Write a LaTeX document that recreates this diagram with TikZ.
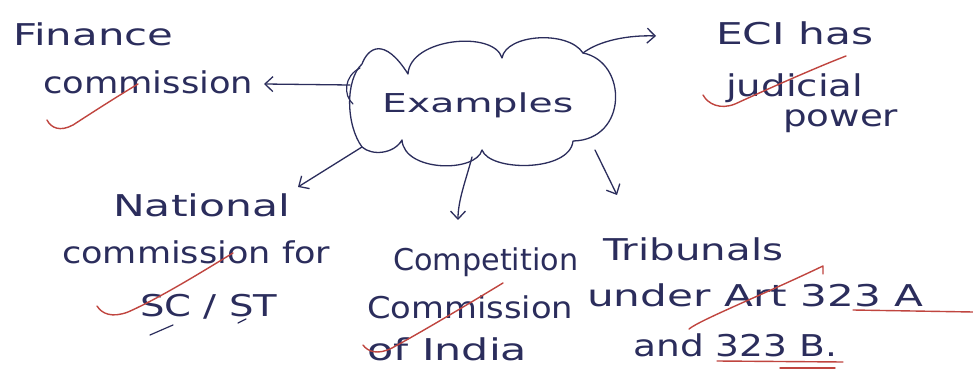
\documentclass[tikz,border=0pt]{standalone}
\usepackage{fontspec}
\usepackage{graphicx}
\setmainfont{DejaVu Sans}
\newfontfamily\handfont{DejaVu Sans}
\usetikzlibrary{arrows.meta}
\definecolor{ink}{HTML}{2B2D5C}
\definecolor{redink}{HTML}{C0453F}
\newcommand\hwfit[2]{\resizebox{#1pt}{\height}{#2}}
\begin{document}
\begin{tikzpicture}[x=1pt,y=-1pt,
  hand/.style={font=\handfont\fontsize{30}{30}\selectfont, text=ink, inner sep=0pt, anchor=base west},
  link/.style={draw=ink, line width=1.3pt, line cap=round, -{Straight Barb[length=8pt,width=15pt,line width=1.3pt]}},
  redmark/.style={draw=redink, line width=1.4pt, line cap=round, line join=round},
  inkmark/.style={draw=ink, line width=1.2pt, line cap=round}]
\useasboundingbox (0,0) rectangle (973,379);
\fill[white] (0,0) rectangle (973,379);

% cloud
\draw[ink, line width=1.3pt, line join=round]
  (362,147) .. controls (346,125) and (345,80) .. (362,64)
  .. controls (368,48) and (384,36) .. (408,74)
  .. controls (410,38) and (494,30) .. (502,58)
  .. controls (506,34) and (568,30) .. (583,53)
  .. controls (628,62) and (628,140) .. (573,141)
  .. controls (570,172) and (490,172) .. (482,150)
  .. controls (476,173) and (404,172) .. (402,140)
  .. controls (394,154) and (372,156) .. cycle;
\draw[ink, line width=1.2pt, line cap=round] (360,68) .. controls (344,76) and (343,95) .. (353,104);
\node[inner sep=0pt, font=\handfont\fontsize{26}{26}\selectfont, text=ink, anchor=base west] (ex) at (382,113) {\hwfit{191}{Examples}};

% texts
\node[hand] (fin) at (13,46) {\hwfit{160}{Finance}};
\node[hand] (comm) at (43,94) {\hwfit{210}{commission}};

\node[hand] (eci) at (716,45) {\hwfit{157}{ECI has}};
\node[hand] (jud) at (726,97) {\hwfit{137}{judicial}};
\node[hand] (pow) at (783,127) {\hwfit{115}{power}};

\node[hand] (nat) at (113,216) {\hwfit{177}{National}};
\node[hand] (ncf) at (62,263) {\hwfit{268}{commission for}};
\node[hand] (scst) at (140,316) {\hwfit{137}{SC / ST}};

\node[hand] (cmp) at (393,270) {\hwfit{185}{Competition}};
\node[hand] (cmc) at (367,318) {\hwfit{206}{Commission}};
\node[hand] (ind) at (367,360) {\hwfit{160}{of India}};

\node[hand] (trb) at (603,260) {\hwfit{180}{Tribunals}};
\node[hand] (und) at (587,306) {\hwfit{336}{under Art 323 A}};
\node[hand] (and) at (633,356) {\hwfit{204}{and 323 B.}};

% arrow tips
\coordinate (t1) at (264,84);
\coordinate (t2) at (656,36);
\coordinate (t3) at (298,187);
\coordinate (t4) at (458,220);
\coordinate (t5) at (617,195);

\draw[link] ([shift={(-32,-28)}]ex.base west) -- (t1);
\draw[link] ([shift={(201,-60)}]ex.base west) .. controls (600,40) and (630,35) .. (t2);
\draw[link] ([shift={(-20,34)}]ex.base west) -- (t3);
\draw[link] ([shift={(90,44)}]ex.base west) .. controls (466,180) and (458,200) .. (t4);
\draw[link] ([shift={(213,37)}]ex.base west) -- (t5);

% red marks
\draw[redmark] (47,120) .. controls (51,128) and (60,132) .. (73,125) .. controls (93,112) and (118,96) .. (138,84);
\draw[redmark] (703,95) .. controls (708,104) and (720,110) .. (735,104) .. controls (770,88) and (815,68) .. (846,56);
\draw[redmark] (97,306) .. controls (102,314) and (112,318) .. (128,312) .. controls (160,298) and (205,270) .. (233,253);
\draw[redmark] (363,345) .. controls (368,352) and (378,355) .. (392,348) .. controls (425,330) and (470,303) .. (503,283);
\draw[redmark] (689,329) .. controls (700,320) and (760,296) .. (823,266) -- (823,274);
\draw[redmark] (853,310) -- (973,312);
\draw[redmark] (717,361) -- (843,362);
\draw[redmark] (780,368) -- (835,368);

% small dashes under SC/ST
\draw[inkmark] (150,335) -- (173,325);
\draw[inkmark] (238,323) -- (246,319);
\end{tikzpicture}
\end{document}
